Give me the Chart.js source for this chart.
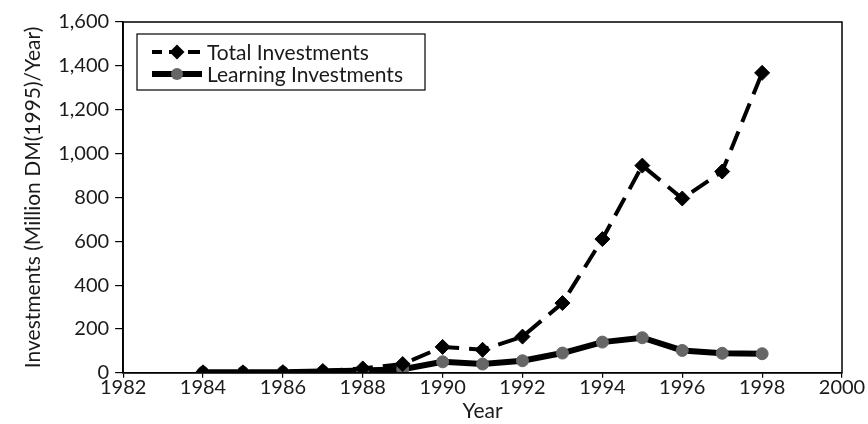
<!DOCTYPE html>
<html>
<head>
<meta charset="utf-8">
<script src="https://cdn.jsdelivr.net/npm/chart.js@4"></script>
<style>
  html, body { margin: 0; padding: 0; background: #fff; }
  #wrap { width: 868px; height: 424px; }
</style>
</head>
<body>
<div id="wrap"><canvas id="chart" width="868" height="424"></canvas></div>
<script>
const years = [1984, 1985, 1986, 1987, 1988, 1989, 1990, 1991, 1992, 1993, 1994, 1995, 1996, 1997, 1998];
const totalInvestments = [2, 2, 3, 8, 20, 40, 118, 105, 165, 318, 610, 945, 795, 918, 1368];
const learningInvestments = [2, 2, 3, 6, 10, 16, 50, 40, 55, 90, 140, 160, 102, 89, 87];
const xTicks = [1982, 1984, 1986, 1988, 1990, 1992, 1994, 1996, 1998, 2000];
const yTicks = [0, 200, 400, 600, 800, 1000, 1200, 1400, 1600];

const FONT = "Lato, 'Open Sans', sans-serif";
const TXT = "#1a1a1a";

const toPoints = (vals) => years.map((y, i) => ({ x: y, y: vals[i] }));

// cadre autour de la zone de tracé + légende encadrée
const framePlugin = {
  id: "frame",
  afterDraw(chart) {
    const { ctx, chartArea: a } = chart;
    ctx.save();
    ctx.strokeStyle = "#000";
    ctx.lineWidth = 1.5;
    ctx.strokeRect(a.left, a.top, a.right - a.left, a.bottom - a.top);

    // légende
    const bx = 137, by = 34, bw = 288, bh = 56;
    ctx.fillStyle = "#fff";
    ctx.fillRect(bx, by, bw, bh);
    ctx.lineWidth = 1.2;
    ctx.strokeRect(bx, by, bw, bh);
    ctx.font = "21px " + FONT;
    ctx.textBaseline = "middle";
    chart.data.datasets.forEach((ds, i) => {
      const cy = by + 18 + i * 22;
      ctx.strokeStyle = ds.borderColor;
      ctx.lineWidth = i === 0 ? 4 : 6;
      ctx.setLineDash(i === 0 ? [12, 7] : []);
      ctx.lineDashOffset = 2;
      ctx.beginPath();
      ctx.moveTo(bx + 15, cy);
      ctx.lineTo(bx + 65, cy);
      ctx.stroke();
      ctx.setLineDash([]);
      ctx.fillStyle = ds.pointBackgroundColor;
      ctx.beginPath();
      if (ds.pointStyle === "rectRot") {
        const r = ds.pointRadius;
        ctx.moveTo(bx + 40, cy - r);
        ctx.lineTo(bx + 40 + r, cy);
        ctx.lineTo(bx + 40, cy + r);
        ctx.lineTo(bx + 40 - r, cy);
        ctx.closePath();
      } else {
        ctx.arc(bx + 40, cy, ds.pointRadius, 0, Math.PI * 2);
      }
      ctx.fill();
      ctx.fillStyle = TXT;
      ctx.fillText(ds.label, bx + 70, cy + 1);
    });
    ctx.restore();
  },
};

new Chart(document.getElementById("chart"), {
  type: "line",
  data: {
    datasets: [
      {
        label: "Total Investments",
        data: toPoints(totalInvestments),
        borderColor: "#000",
        borderWidth: 4,
        borderDash: [20, 10],
        pointStyle: "rectRot",
        pointRadius: 7.5,
        pointBackgroundColor: "#000",
        pointBorderColor: "#000",
        pointBorderWidth: 1,
        tension: 0,
      },
      {
        label: "Learning Investments",
        data: toPoints(learningInvestments),
        borderColor: "#000",
        borderWidth: 6,
        pointStyle: "circle",
        pointRadius: 6,
        pointBackgroundColor: "#666",
        pointBorderColor: "#666",
        pointBorderWidth: 1,
        tension: 0,
      },
    ],
  },
  options: {
    responsive: false,
    animation: false,
    layout: { padding: { top: 22, right: 26, left: 17, bottom: 0 } },
    plugins: { legend: { display: false }, tooltip: { enabled: false } },
    scales: {
      x: {
        type: "linear",
        min: 1982,
        max: 2000,
        afterBuildTicks: (s) => { s.ticks = xTicks.map((v) => ({ value: v })); },
        grid: { drawOnChartArea: false, color: "#000", tickLength: 5, lineWidth: 1.2 },
        border: { color: "#000", width: 1.5 },
        ticks: { color: TXT, font: { family: FONT, size: 20 }, padding: -2, callback: (v) => String(v) },
        title: { display: true, text: "Year", color: TXT, font: { family: FONT, size: 21 }, padding: { top: 1, bottom: 0 } },
      },
      y: {
        min: 0,
        max: 1600,
        afterBuildTicks: (s) => { s.ticks = yTicks.map((v) => ({ value: v })); },
        grid: { drawOnChartArea: false, color: "#000", tickLength: 8, lineWidth: 1.2 },
        border: { color: "#000", width: 1.5 },
        ticks: { color: TXT, font: { family: FONT, size: 20 }, padding: 6, callback: (v) => v.toLocaleString("en-US") },
        title: { display: true, text: "Investments (Million DM(1995)/Year)", color: TXT, font: { family: FONT, size: 21 }, padding: { bottom: 6 } },
      },
    },
  },
  plugins: [framePlugin],
});
</script>
</body>
</html>
